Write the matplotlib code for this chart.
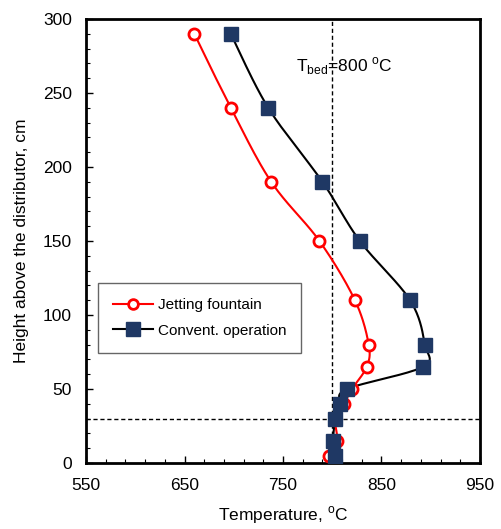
import numpy as np
import matplotlib
matplotlib.use("Agg")
import matplotlib.pyplot as plt

plt.rcParams['font.family'] = ['Liberation Sans', 'DejaVu Sans']
plt.rcParams['mathtext.fontset'] = 'custom'
plt.rcParams['mathtext.rm'] = 'Liberation Sans'

# data
jet_height = [5, 15, 30, 40, 50, 65, 80, 110, 150, 190, 240, 290]
jet_temp = [797, 805, 803, 812, 820, 835, 837, 823, 787, 738, 697, 660]

conv_height = [5, 15, 30, 40, 50, 65, 80, 110, 150, 190, 240, 290]
conv_temp = [803, 801, 803, 808, 815, 892, 894, 879, 828, 790, 735, 697]

t_bed = 800
h_line = 30


def smooth(x, y, n=20):
    # catmull-rom curve through the points, like Excel's smoothed line
    p = np.column_stack([x, y]).astype(float)
    p = np.vstack([p[0], p, p[-1]])
    out = []
    t = np.linspace(0, 1, n, endpoint=False)
    for i in range(1, len(p) - 2):
        p0, p1, p2, p3 = p[i - 1], p[i], p[i + 1], p[i + 2]
        tt = t[:, None]
        pts = 0.5 * ((2 * p1) + (-p0 + p2) * tt
                     + (2 * p0 - 5 * p1 + 4 * p2 - p3) * tt ** 2
                     + (-p0 + 3 * p1 - 3 * p2 + p3) * tt ** 3)
        out.append(pts)
    out.append(p[-2][None, :])
    out = np.vstack(out)
    return out[:, 0], out[:, 1]


fig = plt.figure(figsize=(5.02, 5.29), dpi=100)
ax = fig.add_axes([86 / 502, 1 - 463 / 529, 394 / 502, 444 / 529])

ax.axvline(t_bed, color='black', linestyle='--', linewidth=1, dashes=(3, 2))
ax.axhline(h_line, color='black', linestyle='--', linewidth=1, dashes=(3, 2))

sx, sy = smooth(conv_temp, conv_height)
ax.plot(sx, sy, color='black', linewidth=1.5, zorder=3)
ax.plot(conv_temp, conv_height, linestyle='none', marker='s', markersize=10,
        color='#1F3864', zorder=5)
ax.plot([], [], color='black', linewidth=1.5, marker='s', markersize=10,
        markerfacecolor='#1F3864', markeredgecolor='#1F3864', label='Convent. operation')

sx, sy = smooth(jet_temp, jet_height)
ax.plot(sx, sy, color='red', linewidth=1.5, zorder=3)
ax.plot(jet_temp, jet_height, linestyle='none', marker='o', markersize=8,
        markerfacecolor='white', markeredgecolor='red', markeredgewidth=2, zorder=4)
ax.plot([], [], color='red', linewidth=1.5, marker='o', markersize=7,
        markerfacecolor='white', markeredgecolor='red', markeredgewidth=2, label='Jetting fountain')

handles, labels = ax.get_legend_handles_labels()
leg = ax.legend(handles[::-1], labels[::-1], loc='upper left',
                bbox_to_anchor=(12 / 394, 180 / 444), borderaxespad=0, fontsize=11,
                frameon=True, fancybox=False, edgecolor='#404040',
                handlelength=2.6, borderpad=1.0, labelspacing=0.75, handletextpad=0.3)
leg.get_frame().set_linewidth(1.0)

ax.text(763, 268, r'T$_{\mathrm{bed}}$=800 $^{\mathrm{o}}$C', fontsize=12.5,
        ha='left', va='center')

ax.set_xlim(550, 950)
ax.set_ylim(0, 300)
ax.set_xticks([550, 650, 750, 850, 950])
ax.set_xticks(np.arange(550, 951, 20), minor=True)
ax.set_yticks(np.arange(0, 301, 50))
ax.set_yticks(np.arange(0, 301, 10), minor=True)
ax.tick_params(which='both', direction='in', top=False, right=False)
ax.tick_params(which='major', length=5, width=1, labelsize=12.5)
ax.tick_params(axis='x', which='major', pad=11)
ax.tick_params(axis='y', which='major', pad=10)
ax.tick_params(which='minor', length=3, width=0.8)
for s in ax.spines.values():
    s.set_linewidth(2)

ax.set_xlabel(r'Temperature, $^{\mathrm{o}}$C', fontsize=12.5, labelpad=8)
ax.set_ylabel('Height above the distributor, cm', fontsize=12.5, labelpad=10)

fig.savefig('out.png', dpi=100)
